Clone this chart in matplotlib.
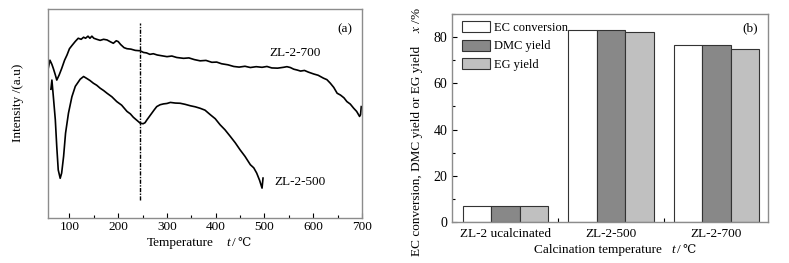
import numpy as np
import matplotlib
matplotlib.use('Agg')
from matplotlib import pyplot as plt
from matplotlib.ticker import MultipleLocator

plt.rcParams['font.family'] = ['Liberation Serif', 'DejaVu Serif']
plt.rcParams['mathtext.fontset'] = 'stix'
plt.rcParams['font.size'] = 9

####################  数据  ######################
# (a) TPD curves, temperature / intensity (a.u.)
t_700 = [56, 60, 64, 67, 71, 74, 79, 84, 90, 95, 100, 105, 112, 118, 124, 129, 133, 138,
         142, 146, 150, 156, 163, 170, 177, 184, 190, 196, 200, 205, 212, 218, 226, 235,
         245, 252, 258, 265, 272, 280, 290, 300, 310, 320, 334, 345, 356, 368, 380, 392,
         402, 412, 425, 437, 448, 460, 471, 483, 495, 505, 515, 527, 539, 546, 553, 560,
         567, 574, 582, 590, 601, 610, 621, 628, 635, 642, 649, 656, 663, 669, 676, 683,
         689, 695, 697, 698.5]
v_700 = [71, 75.5, 73.5, 71.5, 68.5, 66, 68.5, 71.5, 75.5, 78, 81, 82.5, 84.5, 86, 85.5, 86.5,
         86, 87, 86, 87, 86, 85.5, 85, 85.5, 85.2, 84.3, 83.6, 84.8, 84.4, 83, 81.5, 81,
         80.8, 80.2, 80, 79.2, 79, 78.3, 78.6, 78, 77.6, 77.2, 77.5, 76.8, 76.4, 76.6, 75.8,
         75.2, 75.4, 74.5, 74.6, 73.8, 73.3, 72.5, 72.2, 72.6, 72, 72.4, 72.1, 72.5, 71.8,
         71.7, 72.1, 72.4, 72, 71.2, 70.8, 70.3, 70.6, 69.8, 68.9, 68.3, 66.9, 66.2, 64.5,
         62.5, 59.7, 58.8, 57.5, 55.7, 54.5, 52.5, 51, 48.6, 49.4, 53.3]

t_500 = [62, 64, 67, 71, 74, 77, 81, 84, 88, 92, 98, 105, 112, 122, 129, 136, 142, 149, 156,
         163, 170, 177, 187, 197, 207, 218, 225, 231, 238, 245, 251, 255, 259, 264, 269,
         274, 279, 286, 293, 300, 307, 317, 327, 337, 348, 358, 368, 378, 389, 399, 409,
         419, 430, 440, 450, 460, 471, 478, 484, 490, 495, 497]
v_500 = [61.6, 66, 58, 47, 34, 23, 19, 21.5, 29.5, 40.6, 50.2, 58, 63, 66.4, 67.7, 66.7,
         65.8, 64.5, 63.5, 62.1, 61, 59.7, 58, 55.7, 54, 51, 49.8, 48.2, 46.8, 45.4, 45.1,
         45.6, 47, 48.6, 50.2, 51.8, 53.3, 54.2, 54.6, 54.8, 55.3, 55, 54.9, 54.4, 53.7,
         53.2, 52.5, 51.6, 49.4, 47.5, 44.6, 42.2, 39, 36, 32.6, 29.5, 25.5, 24, 21.5, 18,
         14.3, 19.1]

# (b) catalytic performance
samples = ['ZL-2 ucalcinated', 'ZL-2-500', 'ZL-2-700']
ec_conv = [7.0, 82.9, 76.4]
dmc_yield = [7.0, 82.9, 76.4]
eg_yield = [7.0, 82.2, 74.8]

W, H = 789, 263
fig = plt.figure(figsize=(W / 100, H / 100), dpi=100)
spine_c = '#8c8c8c'


def ftext(x, y, s, **kw):
    # 以像素坐标(左上角为原点)放置文字
    fig.text(x / W, 1 - y / H, s, **kw)


####################  (a)  ######################
ax1 = fig.add_axes([48 / W, (H - 218) / H, 314 / W, 209 / H])
ax1.plot(t_700, v_700, color='black', lw=1.2)
ax1.plot(t_500, v_500, color='black', lw=1.2)
ax1.plot([245, 245], [8.8, 93.5], color='black', lw=1.0, linestyle=(0, (3, 1, 1, 1)))
ax1.set_xlim(56, 700)
ax1.set_ylim(0, 100)
ax1.xaxis.set_major_locator(MultipleLocator(100))
ax1.xaxis.set_minor_locator(MultipleLocator(50))
ax1.set_yticks([])
ax1.tick_params(axis='x', which='major', direction='in', length=3.5, width=0.8, pad=2.5,
                labelsize=9.5)
ax1.tick_params(axis='x', which='minor', direction='in', length=2, width=0.8)
for s in ax1.spines.values():
    s.set_color(spine_c)
    s.set_linewidth(1.0)
ax1.text(511, 79, 'ZL-2-700', fontsize=9.5, va='center', ha='left')
ax1.text(521, 17, 'ZL-2-500', fontsize=9.5, va='center', ha='left')
ax1.text(649, 90.3, '(a)', fontsize=9.5, va='center', ha='left')
ax1.set_ylabel('Intensity /(a.u)', fontsize=9.5)
ax1.yaxis.set_label_coords(-0.075, 0.55)
ftext(147, 243, 'Temperature', fontsize=9.5, va='center', ha='left')
ftext(226, 243, 't', fontsize=9.5, va='center', ha='left', style='italic')
ftext(232, 243, '/', fontsize=9.5, va='center', ha='left')
ftext(237, 243, '℃', fontsize=8.5, va='center', ha='left')

####################  (b)  ######################
ax2 = fig.add_axes([451.7 / W, (H - 222) / H, 316.3 / W, 208 / H])
x = np.arange(len(samples))
bw = 0.27
ax2.bar(x - bw, ec_conv, bw, color='white', edgecolor='#333333', lw=0.8, label='EC conversion')
ax2.bar(x, dmc_yield, bw, color='#888888', edgecolor='#333333', lw=0.8, label='DMC yield')
ax2.bar(x + bw, eg_yield, bw, color='#c0c0c0', edgecolor='#333333', lw=0.8, label='EG yield')
ax2.set_xlim(-0.51, 2.49)
ax2.set_ylim(0, 90)
ax2.set_xticks(x)
ax2.set_xticklabels(samples)
ax2.set_xticks([0.5, 1.5], minor=True)
ax2.yaxis.set_major_locator(MultipleLocator(20))
ax2.yaxis.set_minor_locator(MultipleLocator(10))
ax2.tick_params(axis='x', which='major', length=0, pad=4, labelsize=9.5)
ax2.tick_params(axis='x', which='minor', direction='in', length=3, width=0.8)
ax2.tick_params(axis='y', which='major', direction='in', length=3.5, width=0.8, pad=3,
                labelsize=10)
ax2.tick_params(axis='y', which='minor', direction='in', length=2, width=0.8)
for s in ax2.spines.values():
    s.set_color(spine_c)
    s.set_linewidth(1.0)
ax2.legend(loc='upper left', bbox_to_anchor=(0.033, 0.966), frameon=False,
           borderaxespad=0, borderpad=0, handlelength=2.25, handleheight=1.0,
           handletextpad=0.3, labelspacing=0.45, fontsize=9)
ax2.text(0.969, 0.93, '(b)', transform=ax2.transAxes, fontsize=9.5, ha='right', va='center')
ax2.text(-0.11, 0.34, 'EC conversion, DMC yield or EG yield', transform=ax2.transAxes,
         rotation=90, fontsize=9.5, ha='center', va='center')
ax2.text(-0.11, 0.97, '$x$ /%', transform=ax2.transAxes,
         rotation=90, fontsize=9.5, ha='center', va='center')
ftext(534, 250, 'Calcination temperature', fontsize=9.5, va='center', ha='left')
ftext(671, 250, 't', fontsize=9.5, va='center', ha='left', style='italic')
ftext(677, 250, '/', fontsize=9.5, va='center', ha='left')
ftext(682, 250, '℃', fontsize=8.5, va='center', ha='left')

fig.savefig('out.png', dpi=100)
